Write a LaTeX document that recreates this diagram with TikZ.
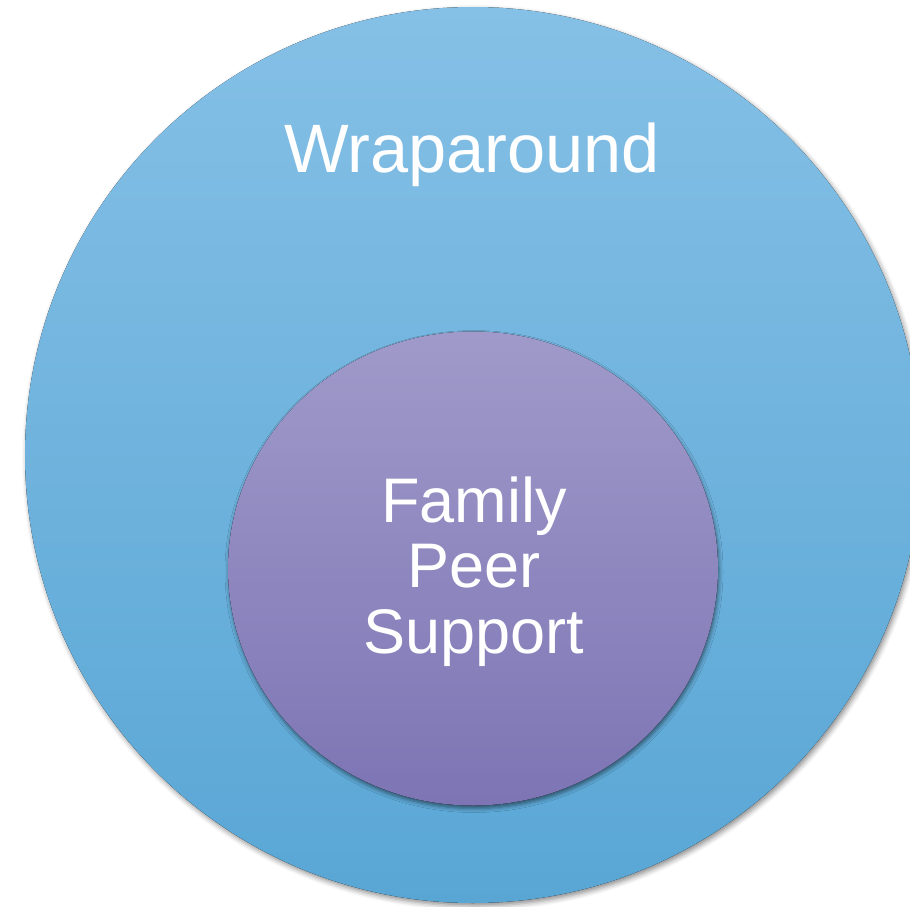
\documentclass[tikz,border=0pt]{standalone}
\usepackage{fontspec}
\setmainfont{Liberation Sans}
\usepackage{tikz}
\usetikzlibrary{shadows.blur}

\definecolor{outertop}{RGB}{133,192,230}
\definecolor{outerbot}{RGB}{89,166,213}
\definecolor{innertop}{RGB}{160,154,202}
\definecolor{innerbot}{RGB}{125,117,180}

\begin{document}
\begin{tikzpicture}[x=1pt, y=-1pt]
      \useasboundingbox (0,0) rectangle (910,907);

      \fill[top color=outertop, bottom color=outerbot,
            blur shadow={shadow xshift=2pt, shadow yshift=-3pt, shadow blur radius=5pt, shadow opacity=45}]
            (473,455) circle [radius=448];
      \fill[top color=innertop, bottom color=innerbot,
            blur shadow={shadow xshift=1pt, shadow yshift=-3pt, shadow blur radius=4pt, shadow opacity=50}]
            (473,568.5) ellipse [x radius=245, y radius=237];

      \node[anchor=base, text=white, inner sep=0pt, font=\fontsize{68.5}{82}\selectfont] (wrap) at (472,172) {Wraparound};
      \node[anchor=base, text=white, inner sep=0pt, align=center, font=\fontsize{63}{65.5}\selectfont] (fps) at (474,653) {Family\\Peer\\Support};
    \end{tikzpicture}
\end{document}
